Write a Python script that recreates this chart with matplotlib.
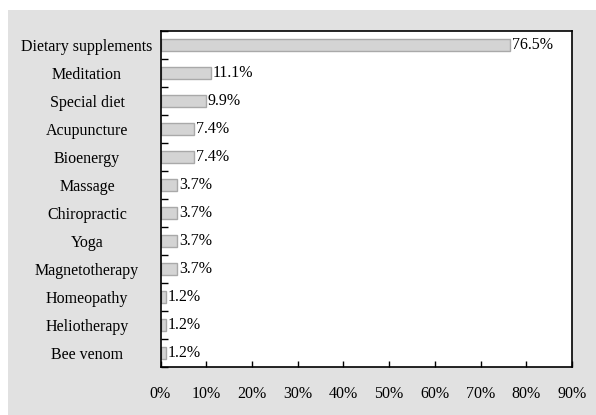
import matplotlib
matplotlib.use("Agg")
import matplotlib.pyplot as plt
from matplotlib.patches import Rectangle
import numpy as np

categories = ["Dietary supplements", "Meditation", "Special diet", "Acupuncture",
              "Bioenergy", "Massage", "Chiropractic", "Yoga", "Magnetotherapy",
              "Homeopathy", "Heliotherapy", "Bee venom"]
values = [76.5, 11.1, 9.9, 7.4, 7.4, 3.7, 3.7, 3.7, 3.7, 1.2, 1.2, 1.2]
x_ticks = [0, 10, 20, 30, 40, 50, 60, 70, 80, 90]
x_tick_labels = [f"{t}%" for t in x_ticks]

plt.rcParams["font.family"] = ["Liberation Serif", "DejaVu Serif"]
W, H = 596, 415
fig = plt.figure(figsize=(W / 100, H / 100), dpi=100)
fig.patch.set_facecolor("white")

# grey panel behind the chart
fig.patches.append(Rectangle((8 / W, 0), 1 - 8 / W, 1 - 10 / H,
                             transform=fig.transFigure, facecolor="#e1e1e1",
                             edgecolor="none", zorder=-10))

left, right, top, bottom = 160.5, 572.0, 31.0, 366.7
ax = fig.add_axes([left / W, 1 - bottom / H, (right - left) / W, (bottom - top) / H])
ax.set_facecolor("white")

y = np.arange(len(categories))
ax.barh(y, values, height=0.42, color="#d4d4d4", edgecolor="#a9a9a9", linewidth=1.0)

for yi, v in zip(y, values):
    ax.text(v + 0.4, yi, f"{v:.1f}%", va="center", ha="left", fontsize=11.5)

ax.set_xlim(0, 90)
ax.set_ylim(len(categories) - 0.5, -0.5)
ax.set_xticks(x_ticks)
ax.set_xticklabels(x_tick_labels, fontsize=11.5)
ax.tick_params(axis="x", direction="in", length=4, width=1, pad=14, colors="black")

ax.set_yticks(y)
ax.set_yticklabels(categories, fontsize=11.5)
ax.tick_params(axis="y", which="major", length=0, pad=(left - 87) * 0.72)
for lab in ax.get_yticklabels():
    lab.set_horizontalalignment("center")
ax.set_yticks(np.arange(-0.5, len(categories), 1), minor=True)
ax.tick_params(axis="y", which="minor", direction="in", length=5, width=1)

for s in ax.spines.values():
    s.set_linewidth(1.2)
    s.set_color("black")

fig.savefig("out.png", dpi=100)
